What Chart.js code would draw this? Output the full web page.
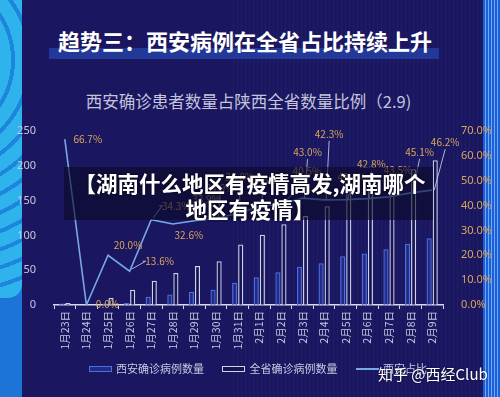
<!DOCTYPE html>
<html>
<head>
<meta charset="utf-8">
<script src="https://cdn.jsdelivr.net/npm/chart.js@4"></script>
<style>
  html, body { margin: 0; padding: 0; }
  body {
    width: 500px; height: 397px; overflow: hidden; position: relative;
    background: #1a1660;
    font-family: "Noto Sans CJK SC", "Noto Sans", sans-serif;
  }
  #bgStripes {
    position: absolute; left: 230px; top: 0; width: 253px; height: 397px;
    background: repeating-linear-gradient(90deg, rgba(255,255,255,0) 0 3px, rgba(120,140,255,0.05) 3px 4px);
  }
  #leftDeco {
    position: absolute; left: 0; top: 0; width: 22px; height: 397px;
    background: #1b74d6; overflow: hidden;
  }
  #leftDeco .arcs {
    position: absolute; left: 0; top: 0; width: 22px; height: 298px;
    border-bottom-right-radius: 14px;
    background: repeating-radial-gradient(circle at -70px 60px, #2fb3ec 0 13px, #1c86dc 13px 17px);
  }
  #rightDeco {
    position: absolute; left: 483px; top: 0; width: 17px; height: 397px;
    background: repeating-linear-gradient(90deg, #1c5fd8 0 2px, #6aaaf8 2px 3px);
  }
  #titleBar {
    position: absolute; left: 49px; top: 48px; width: 390px; height: 11px;
    background: #23399a;
  }
  #title {
    position: absolute; left: 0; width: 490px; top: 26px; text-align: center;
    color: #ffffff; font-size: 22px; font-weight: bold; line-height: 29px;
  }
  #subtitle {
    position: absolute; left: 0; width: 497px; top: 90px; text-align: center;
    color: #c4c4dc; font-size: 16.5px; line-height: 23px;
  }
  #chartBox { position: absolute; left: 0; top: 0; width: 500px; height: 397px; }
  #legend {
    position: absolute; left: 89px; top: 359px; height: 18px;
    color: #c8c8e0; font-size: 11px; line-height: 18px; white-space: nowrap;
  }
  #legend span.item { display: inline-block; margin-right: 16px; }
  #legend i { display: inline-block; vertical-align: middle; margin-right: 4px; position: relative; top: -1px; }
  #banner {
    position: absolute; left: 64px; top: 167px; width: 369px; height: 53px;
    background: rgba(12,10,38,0.62);
  }
  #bannerText {
    position: absolute; left: 60px; top: 170px; width: 380px; text-align: center;
    color: #ffffff; font-size: 21.5px; font-weight: bold; line-height: 26px;
    text-shadow: 0 0 3px rgba(0,0,0,0.8);
  }
  #mark {
    position: absolute; left: 378px; top: 364px; color: #ffffff; font-size: 15px;
    line-height: 20px; text-shadow: 0 0 2px rgba(0,0,0,0.6);
  }
</style>
</head>
<body>
<div id="bgStripes"></div>
<div id="leftDeco"><div class="arcs"></div></div>
<div id="rightDeco"></div>
<div id="titleBar"></div>
<div id="title">趋势三：西安病例在全省占比持续上升</div>
<div id="subtitle">西安确诊患者数量占陕西全省数量比例（2.9)</div>
<div id="chartBox"><canvas id="grafico" width="500" height="397"></canvas></div>
<div id="legend">
  <span class="item"><i style="width:21px;height:4px;border:1px solid #4a70e0;background:rgba(60,90,210,0.3)"></i>西安确诊病例数量</span>
  <span class="item"><i style="width:21px;height:4px;border:1px solid #d0d2ec;background:rgba(20,18,70,0.5)"></i>全省确诊病例数量</span>
  <span class="item"><i style="width:23px;height:2px;background:#78a8e8"></i>西安占比</span>
</div>
<div id="banner"></div>
<div id="bannerText">【湖南什么地区有疫情高发,湖南哪个<br>地区有疫情】</div>
<div id="mark">知乎 @西经Club</div>

<script>
// Dados do gráfico
const categorias = ['1月23日', '1月24日', '1月25日', '1月26日', '1月27日', '1月28日', '1月29日', '1月30日', '1月31日',
    '2月1日', '2月2日', '2月3日', '2月4日', '2月5日', '2月6日', '2月7日', '2月8日', '2月9日'];
const casosXian = [2, 0, 2, 3, 12, 15, 19, 22, 32, 40, 47, 55, 60, 70, 74, 80, 88, 96];
const casosProvincia = [3, 0, 10, 22, 35, 46, 56, 63, 87, 101, 116, 128, 142, 165, 173, 184, 195, 208];
const proporcaoXian = [66.7, 0.0, 20.0, 13.6, 34.3, 32.6, 33.9, 34.9, 36.8, 39.6, 40.5, 43.0, 42.3, 42.4, 42.8, 43.5, 45.1, 46.2];
const ticksEsquerda = [0, 50, 100, 150, 200, 250];
const ticksDireita = [0, 10, 20, 30, 40, 50, 60, 70];

// deslocamento dos rótulos em relação ao ponto (só estilo)
const deslocRotulos = [[23, 0], [21, -1], [20, -10], [30, -10], [25, -14], [16, 11], [12, -22], [4, -30], [2, -36],
    [4, -26], [26, -33], [5, -46], [5, -66], [6, -22], [4, -34], [9, -27], [9, -41], [13, -48]];
const comChamada = [false, false, false, true, true, false, true, true, true,
    true, true, true, true, true, true, true, true, true];

const corRotulo = '#d9a65c';

// rótulos com linhas de chamada
const rotulosPlugin = {
    id: 'rotulos',
    afterDatasetsDraw(chart) {
        const ctx = chart.ctx;
        const meta = chart.getDatasetMeta(2);
        ctx.save();
        ctx.font = '10px "Noto Sans CJK SC", sans-serif';
        ctx.textAlign = 'center';
        ctx.textBaseline = 'middle';
        meta.data.forEach((p, i) => {
            const [dx, dy] = deslocRotulos[i];
            const lx = p.x + dx, ly = p.y + dy;
            if (comChamada[i]) {
                ctx.strokeStyle = 'rgba(205,205,235,0.85)';
                ctx.lineWidth = 1;
                ctx.beginPath();
                if (dy < -20) {
                    ctx.moveTo(p.x + 2, p.y);
                    ctx.lineTo(lx, ly + 7);
                } else {
                    ctx.moveTo(p.x + 2, p.y - 2);
                    ctx.lineTo(lx - 14, ly);
                    ctx.lineTo(lx - 17, ly);
                }
                ctx.stroke();
            }
            ctx.fillStyle = corRotulo;
            ctx.fillText(proporcaoXian[i].toFixed(1) + '%', lx, ly);
        });
        ctx.restore();
    }
};

const ctxGrafico = document.getElementById('grafico').getContext('2d');
new Chart(ctxGrafico, {
    data: {
        labels: categorias,
        datasets: [
            {
                type: 'bar', label: '西安确诊病例数量', data: casosXian, yAxisID: 'y',
                backgroundColor: 'rgba(60,90,210,0.3)', borderColor: '#4a70e0', borderWidth: 1.3,
                categoryPercentage: 0.56, barPercentage: 0.85, order: 2
            },
            {
                type: 'bar', label: '全省确诊病例数量', data: casosProvincia, yAxisID: 'y',
                backgroundColor: 'rgba(20,18,70,0.45)', borderColor: '#d0d2ec', borderWidth: 1.3,
                categoryPercentage: 0.56, barPercentage: 0.85, order: 3
            },
            {
                type: 'line', label: '西安占比', data: proporcaoXian, yAxisID: 'y1',
                borderColor: '#78a8e8', borderWidth: 1.6, pointRadius: 0, tension: 0, order: 1
            }
        ]
    },
    options: {
        responsive: false,
        animation: false,
        layout: { padding: { top: 131, bottom: 47, left: 0, right: 0 } },
        plugins: { legend: { display: false }, tooltip: { enabled: false } },
        scales: {
            x: {
                offset: true,
                grid: { display: true, offset: true, drawOnChartArea: false, color: '#d8d8ee', tickLength: 4 },
                border: { display: true, color: '#d8d8ee', width: 1.5 },
                ticks: {
                    color: '#c8c8e0', font: { size: 10.5, family: '"Noto Sans CJK SC", sans-serif' },
                    minRotation: 90, maxRotation: 90, padding: 2, autoSkip: false
                },
                afterFit(scale) { scale.height = 45; }
            },
            y: {
                position: 'left', min: 0, max: 250,
                afterBuildTicks(scale) { scale.ticks = ticksEsquerda.map(v => ({ value: v })); },
                grid: { display: false },
                border: { display: false },
                ticks: { color: '#c8c8e0', font: { size: 11, family: '"Noto Sans", sans-serif' }, padding: 10 },
                afterFit(scale) { scale.width = 54; }
            },
            y1: {
                position: 'right', min: 0, max: 70,
                afterBuildTicks(scale) { scale.ticks = ticksDireita.map(v => ({ value: v })); },
                grid: { display: false },
                border: { display: false },
                ticks: {
                    color: corRotulo, font: { size: 11, family: '"Noto Sans", sans-serif' }, padding: 10,
                    callback: v => v.toFixed(1) + '%'
                },
                afterFit(scale) { scale.width = 57; }
            }
        }
    },
    plugins: [rotulosPlugin]
});
</script>
</body>
</html>
